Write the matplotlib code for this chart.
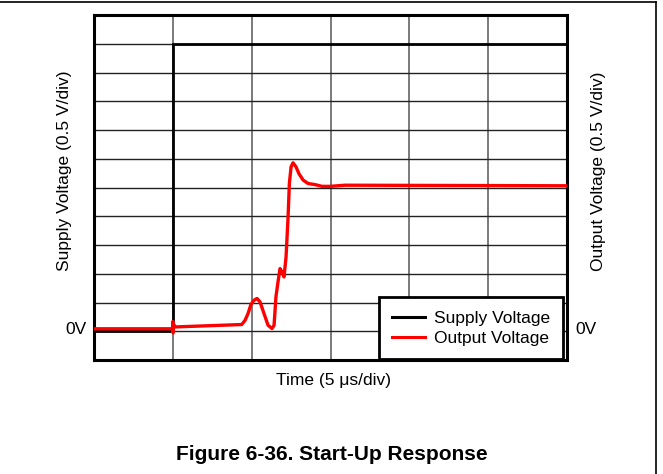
import matplotlib
matplotlib.use("Agg")
import matplotlib.pyplot as plt
from matplotlib.lines import Line2D

plt.rcParams['font.family'] = ['Liberation Sans', 'DejaVu Sans']

# Supply voltage step (time in µs, volts)
supply_t = [0.0, 5.0, 5.0, 30.0]
supply_v = [0.0, 0.0, 5.0, 5.0]

# Output voltage trace (time in µs, volts)
out_t = [0.0, 4.98, 5.0, 5.02, 5.05, 5.14, 9.37, 9.58, 9.77, 9.96, 10.15,
         10.34, 10.53, 10.78, 11.04, 11.29, 11.42, 11.54, 11.67, 11.80,
         11.93, 12.05, 12.18, 12.31, 12.39, 12.50, 12.62, 12.81, 13.00,
         13.26, 13.57, 14.02, 14.46, 14.97, 15.92, 30.0]
out_v = [0.043, 0.043, 0.17, -0.03, 0.12, 0.075, 0.117, 0.19, 0.308, 0.47,
         0.54, 0.57, 0.51, 0.31, 0.104, 0.047, 0.104, 0.60, 0.857, 1.09,
         1.03, 0.944, 1.29, 1.99, 2.57, 2.86, 2.93, 2.86, 2.74, 2.63, 2.57,
         2.55, 2.52, 2.52, 2.54, 2.53]

time_grid = [0, 5, 10, 15, 20, 25, 30]
volt_grid = [-0.5 + 0.5 * i for i in range(13)]

W, H = 663, 474
fig = plt.figure(figsize=(W / 100, H / 100), dpi=100)
ax = fig.add_axes([94 / W, 1 - 360 / H, (567 - 94) / W, (360 - 15) / H])
ax.set_xlim(0, 30)
ax.set_ylim(-0.5, 5.5)

for t in time_grid[1:-1]:
    ax.axvline(t, color='#707070', lw=1.3, zorder=1)
for v in volt_grid[1:-1]:
    ax.axhline(v, color='#222222', lw=1.0, zorder=1)

ax.plot(supply_t, supply_v, color='black', lw=2.0, zorder=3,
        solid_joinstyle='miter')
ax.plot(out_t, out_v, color='#ff0000', lw=2.4, zorder=4,
        solid_joinstyle='round')

ax.set_xticks([])
ax.set_yticks([])
for s in ax.spines.values():
    s.set_linewidth(2.2)
    s.set_color('black')

FS = 12.5
handles = [Line2D([], [], color='black', lw=2.2),
           Line2D([], [], color='#ff0000', lw=2.2)]
leg = ax.legend(handles, ['Supply Voltage', 'Output Voltage'],
                loc='lower right', bbox_to_anchor=(1 - 4 / 473, 1 / 345),
                borderaxespad=0, fancybox=False, framealpha=1,
                edgecolor='black', fontsize=FS, handlelength=1.9,
                handletextpad=0.5, labelspacing=0.3, borderpad=0.75)
leg.get_frame().set_linewidth(2.0)
leg.set_zorder(5)

fig.text(87 / W, 1 - 329 / H, '0V', ha='right', va='center', fontsize=FS)
fig.text(575 / W, 1 - 329 / H, '0V', ha='left', va='center', fontsize=FS)
fig.text(65 / W, 1 - 171 / H, 'Supply Voltage (0.5 V/div)', rotation=90,
         ha='center', va='center', fontsize=FS)
fig.text(598 / W, 1 - 171 / H, 'Output Voltage (0.5 V/div)', rotation=90,
         ha='center', va='center', fontsize=FS)
fig.text(333 / W, 1 - 380 / H, 'Time (5 μs/div)', ha='center', va='center',
         fontsize=FS)
fig.text(332 / W, 1 - 455 / H, 'Figure 6-36. Start-Up Response',
         ha='center', va='center', fontsize=15, fontweight='bold')

# page border lines
fig.add_artist(Line2D([0, 656 / W], [1 - 2 / H, 1 - 2 / H], color='black',
                      lw=1.2, transform=fig.transFigure))
fig.add_artist(Line2D([656 / W, 656 / W], [0, 1 - 2 / H], color='black',
                      lw=1.2, transform=fig.transFigure))

fig.savefig('out.png', dpi=100, facecolor='white')
